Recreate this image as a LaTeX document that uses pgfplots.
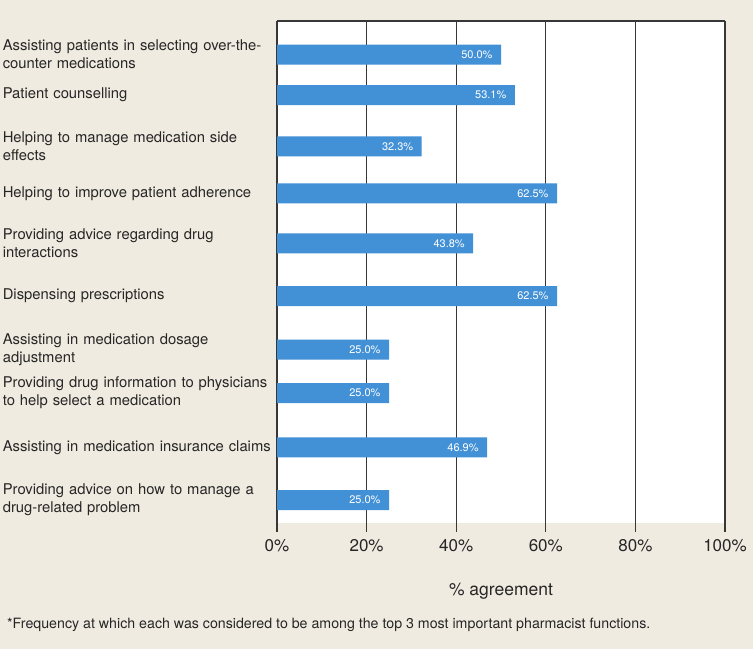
\documentclass[border=0pt]{standalone}
\usepackage{pgfplots}
\pgfplotsset{compat=1.18}
\usepackage{fontspec}
\setmainfont{TeX Gyre Heros}
\definecolor{bgc}{RGB}{240,235,224}
\definecolor{barc}{RGB}{66,144,214}
\definecolor{gridc}{RGB}{55,55,55}
\begin{document}
\begin{tikzpicture}
\fill[bgc] (0,0) rectangle (753bp,-649bp);
\begin{axis}[
  at={(277bp,-21bp)}, anchor=north west,
  width=448bp, height=502bp, scale only axis,
  xmin=0, xmax=100, ymin=21, ymax=523, y dir=reverse,
  axis background/.style={fill=white},
  axis line style={draw=none},
  xtick={0,20,40,60,80,100},
  xticklabels={0\%,20\%,40\%,60\%,80\%,100\%},
  xmajorgrids, grid style={gridc, line width=1.1bp},
  xtick style={gridc, line width=1.1bp},
  tick align=outside, major tick length=9bp,
  tickpos=left,
  xticklabel style={font=\fontsize{17bp}{20bp}\selectfont, text=black!85, yshift=-4bp},
  ytick={54.7,95,146.3,193.3,243.3,296,349.7,393,447.3,500},
  yticklabels={{Assisting patients in selecting over-the-\\counter medications},
    {Patient counselling},
    {Helping to manage medication side\\effects},
    {Helping to improve patient adherence},
    {Providing advice regarding drug\\interactions},
    {Dispensing prescriptions},
    {Assisting in medication dosage\\adjustment},
    {Providing drug information to physicians\\to help select a medication},
    {Assisting in medication insurance claims},
    {Providing advice on how to manage a\\drug-related problem}},
  ytick style={draw=none},
  yticklabel style={font=\fontsize{14.8bp}{18bp}\selectfont, text=black!85, text width=272bp, align=left, anchor=east, inner sep=0pt, xshift=7bp},
  xlabel={\% agreement},
  xlabel style={font=\fontsize{17.5bp}{20bp}\selectfont, text=black!85, yshift=-24bp},
  xbar, bar width=20, bar shift=0pt,
  nodes near coords={\pgfmathprintnumber[fixed,fixed zerofill,precision=1,assume math mode=true]{\pgfplotspointmeta}\%},
  nodes near coords style={anchor=east, text=white, font=\fontsize{11bp}{13bp}\selectfont, xshift=-5bp},
  clip=false,
]
\addplot[fill=barc, draw=none] coordinates {
  (50.0,54.7) (53.1,95) (32.3,146.3) (62.5,193.3) (43.8,243.3)
  (62.5,296) (25.0,349.7) (25.0,393) (46.9,447.3) (25.0,500)};
\draw[gridc, line width=1.1bp] (axis cs:0,21) -- (axis cs:100,21);
\end{axis}
\node[anchor=west, inner sep=0pt, font=\fontsize{14.2bp}{17bp}\selectfont, text=black!85] at (7bp,-625bp) {*Frequency at which each was considered to be among the top 3 most important pharmacist functions.};
\pgfresetboundingbox
\path (0,0) rectangle (753bp,-649bp);
\end{tikzpicture}
\end{document}
